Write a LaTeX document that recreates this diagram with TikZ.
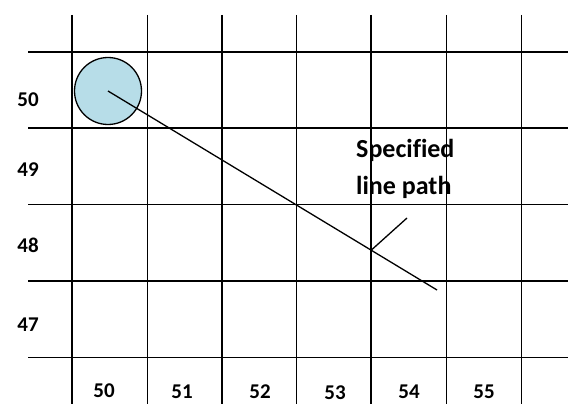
\documentclass[tikz,border=0pt]{standalone}
\usepackage{fontspec}
\setmainfont{Carlito}[Ligatures=NoCommon]
\definecolor{cellblue}{HTML}{B7DDE8}
\tikzset{
  gridline/.style={line width=1.8pt, black},
  coordlabel/.style={font=\fontsize{21}{24}\selectfont\bfseries, inner sep=0pt},
}
\begin{document}
\begin{tikzpicture}[x=1pt, y=-1pt]
  \useasboundingbox (0,0) rectangle (568,404);
  % Grid
  \foreach \gx in {72,147.5,222,296.5,371,446.5,521.5}
    \draw[gridline] (\gx,15) -- (\gx,404);
  \foreach \gy in {52,128,204.5,281,357.5}
    \draw[gridline] (28,\gy) -- (568,\gy);
  % Row labels
  \foreach \ly/\lt in {100/50,170/49,245/48,325/47}
    \node[coordlabel] (row\lt) at (28,\ly) {\lt};
  % Column labels
  \foreach \lx/\ly/\lt in {104/391/50,182/392/51,260/392/52,335/393/53,409/392/54,484/392/55}
    \node[coordlabel] (col\lt) at (\lx,\ly) {\lt};
  % Start cell
  \node[circle, draw, line width=1.3pt, fill=cellblue, minimum size=67pt, inner sep=0pt] (cell) at (108,91) {};
  \coordinate (pend) at (437,290);
  \draw[line width=1.3pt] (cell.center) -- (pend) coordinate[pos=0.8] (hit);
  % Label and pointer
  \node[font=\fontsize{26}{37}\selectfont\bfseries, align=left, anchor=north west, inner sep=0pt] (pathlabel) at (356,139) {Specified\\line path};
  \coordinate (tip) at (407,218);
  \draw[line width=1.3pt] (hit) -- (tip);
\end{tikzpicture}
\end{document}
